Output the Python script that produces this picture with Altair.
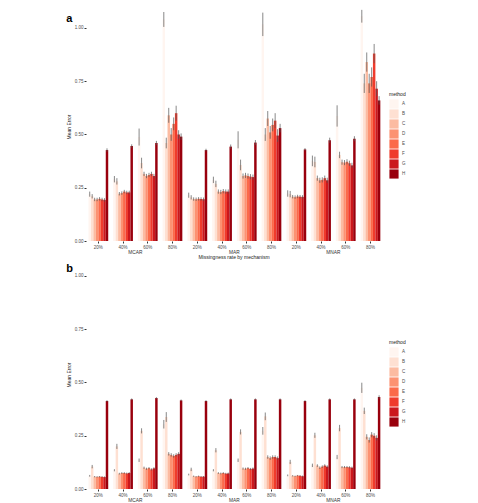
import altair as alt
import pandas as pd

METHODS = list("ABCDEFGH")
RATES = ["20%", "40%", "60%", "80%"]
MECHANISMS = ["MCAR", "MAR", "MNAR"]
REDS = ["#fff5f0", "#fee0d2", "#fcbba1", "#fc9272",
        "#fb6a4a", "#ef3b2c", "#cb181d", "#99000d"]
FONT = "Liberation Sans"

# ---- panel a: mean error, one row per missingness rate, one column per method
a_mcar_mean = [
    [0.220, 0.210, 0.195, 0.195, 0.198, 0.195, 0.193, 0.427],
    [0.290, 0.280, 0.222, 0.225, 0.232, 0.228, 0.228, 0.446],
    [0.488, 0.366, 0.315, 0.305, 0.310, 0.315, 0.305, 0.460],
    [1.040, 0.460, 0.590, 0.500, 0.550, 0.600, 0.500, 0.490],
]
a_mar_mean = [
    [0.215, 0.205, 0.197, 0.196, 0.198, 0.197, 0.196, 0.427],
    [0.287, 0.268, 0.232, 0.230, 0.234, 0.232, 0.232, 0.443],
    [0.475, 0.357, 0.305, 0.308, 0.305, 0.302, 0.300, 0.462],
    [1.017, 0.500, 0.575, 0.510, 0.545, 0.565, 0.495, 0.530],
]
a_mnar_mean = [
    [0.223, 0.220, 0.208, 0.206, 0.209, 0.208, 0.207, 0.430],
    [0.376, 0.371, 0.295, 0.285, 0.287, 0.295, 0.285, 0.473],
    [0.587, 0.404, 0.370, 0.368, 0.372, 0.365, 0.355, 0.480],
    [1.055, 0.740, 0.840, 0.740, 0.770, 0.880, 0.715, 0.660],
]
# half-widths of the error bars
a_mcar_err = [
    [0.012, 0.010, 0.008, 0.008, 0.008, 0.008, 0.008, 0.008],
    [0.015, 0.015, 0.008, 0.008, 0.008, 0.008, 0.008, 0.008],
    [0.040, 0.025, 0.010, 0.010, 0.010, 0.010, 0.010, 0.010],
    [0.035, 0.025, 0.035, 0.030, 0.030, 0.035, 0.020, 0.015],
]
a_mar_err = [
    [0.012, 0.010, 0.008, 0.008, 0.008, 0.008, 0.008, 0.006],
    [0.015, 0.015, 0.010, 0.010, 0.010, 0.010, 0.010, 0.010],
    [0.040, 0.025, 0.012, 0.012, 0.012, 0.012, 0.012, 0.012],
    [0.055, 0.030, 0.035, 0.030, 0.030, 0.035, 0.030, 0.020],
]
a_mnar_err = [
    [0.015, 0.015, 0.008, 0.008, 0.008, 0.008, 0.008, 0.006],
    [0.025, 0.025, 0.012, 0.012, 0.012, 0.012, 0.012, 0.012],
    [0.050, 0.015, 0.012, 0.012, 0.012, 0.012, 0.012, 0.012],
    [0.030, 0.045, 0.045, 0.045, 0.045, 0.045, 0.035, 0.020],
]

# ---- panel b
b_mcar_mean = [
    [0.062, 0.105, 0.058, 0.057, 0.058, 0.057, 0.056, 0.413],
    [0.088, 0.200, 0.072, 0.075, 0.075, 0.073, 0.075, 0.421],
    [0.135, 0.273, 0.100, 0.095, 0.098, 0.092, 0.097, 0.427],
    [0.304, 0.338, 0.165, 0.160, 0.155, 0.160, 0.165, 0.416],
]
b_mar_mean = [
    [0.068, 0.092, 0.060, 0.058, 0.060, 0.058, 0.058, 0.413],
    [0.088, 0.182, 0.075, 0.073, 0.075, 0.072, 0.073, 0.421],
    [0.135, 0.268, 0.096, 0.095, 0.098, 0.094, 0.096, 0.421],
    [0.273, 0.341, 0.150, 0.145, 0.150, 0.150, 0.145, 0.421],
]
b_mnar_mean = [
    [0.064, 0.127, 0.062, 0.060, 0.063, 0.062, 0.060, 0.413],
    [0.111, 0.252, 0.110, 0.100, 0.105, 0.110, 0.105, 0.421],
    [0.150, 0.286, 0.103, 0.103, 0.103, 0.102, 0.100, 0.421],
    [0.475, 0.367, 0.245, 0.230, 0.255, 0.250, 0.240, 0.432],
]
b_mcar_err = [
    [0.004, 0.008, 0.003, 0.003, 0.003, 0.003, 0.003, 0.004],
    [0.005, 0.012, 0.004, 0.004, 0.004, 0.004, 0.004, 0.004],
    [0.008, 0.012, 0.005, 0.005, 0.005, 0.005, 0.005, 0.004],
    [0.020, 0.023, 0.008, 0.008, 0.008, 0.008, 0.008, 0.004],
]
b_mar_err = [
    [0.004, 0.008, 0.003, 0.003, 0.003, 0.003, 0.003, 0.004],
    [0.005, 0.010, 0.004, 0.004, 0.004, 0.004, 0.004, 0.004],
    [0.008, 0.012, 0.005, 0.005, 0.005, 0.005, 0.005, 0.004],
    [0.018, 0.018, 0.008, 0.008, 0.008, 0.008, 0.008, 0.004],
]
b_mnar_err = [
    [0.004, 0.010, 0.003, 0.003, 0.003, 0.003, 0.003, 0.004],
    [0.008, 0.012, 0.006, 0.006, 0.006, 0.006, 0.006, 0.004],
    [0.010, 0.015, 0.005, 0.005, 0.005, 0.005, 0.005, 0.004],
    [0.024, 0.015, 0.012, 0.012, 0.012, 0.012, 0.012, 0.008],
]


def frame(means, errs):
    rows = []
    for mech, m_tab, e_tab in zip(MECHANISMS, means, errs):
        for rate, m_row, e_row in zip(RATES, m_tab, e_tab):
            for meth, m, e in zip(METHODS, m_row, e_row):
                rows.append(dict(mechanism=mech, rate=rate, method=meth,
                                 mean=m, lo=m - e, hi=m + e))
    return pd.DataFrame(rows)


def panel(df, tag):
    base = alt.Chart(df)
    x = alt.X("rate:N", sort=RATES, title=None,
              scale=alt.Scale(paddingInner=0.2, paddingOuter=0.1),
              axis=alt.Axis(labelAngle=0, labelFontSize=4.5, labelPadding=1,
                            tickSize=2, tickColor="#333", labelColor="#4d4d4d",
                            domain=False, labelFont=FONT))
    xo = alt.XOffset("method:N", sort=METHODS, scale=alt.Scale(paddingInner=0, paddingOuter=0))
    y_scale = alt.Scale(domain=[0, 1.075], nice=False, zero=True)
    bars = base.mark_bar().encode(
        x=x, xOffset=xo,
        y=alt.Y("mean:Q", scale=y_scale, title="Mean Error",
                axis=alt.Axis(values=[0, 0.25, 0.5, 0.75, 1.0], format=".2f",
                              grid=False, domain=False, tickSize=2, tickColor="#333",
                              labelFontSize=4.5, labelPadding=1, labelColor="#4d4d4d",
                              titleFontSize=5, titleFontWeight="normal",
                              titlePadding=3, titleColor="#222",
                              labelFont=FONT, titleFont=FONT)),
        color=alt.Color("method:N", scale=alt.Scale(domain=METHODS, range=REDS),
                        legend=alt.Legend(title="method", orient="none",
                                          legendX=303, legendY=80,
                                          symbolType="square", symbolSize=84,
                                          symbolStrokeWidth=0, symbolOpacity=1,
                                          rowPadding=0, labelFontSize=4.5,
                                          titleFontSize=5, titleFontWeight="normal",
                                          titleColor="#222", labelColor="#4d4d4d",
                                          titlePadding=2, labelOffset=3,
                                          labelFont=FONT, titleFont=FONT)),
    )
    errbars = base.mark_rule(color="#555555", strokeWidth=0.7).encode(
        x=x, xOffset=xo,
        y=alt.Y("lo:Q", scale=y_scale),
        y2="hi:Q",
    )
    layer = alt.layer(bars, errbars).properties(width=98.8, height=229)
    return layer.facet(
        column=alt.Column(
            "mechanism:N", sort=MECHANISMS,
            header=alt.Header(labelOrient="bottom", titleOrient="bottom",
                              title="Missingness rate by mechanism",
                              labelFontSize=4.8, titleFontSize=5,
                              labelPadding=1, titlePadding=-10,
                              titleFontWeight="normal", labelColor="#333",
                              titleColor="#222", labelFont=FONT, titleFont=FONT)),
        spacing=0,
    ).properties(
        title=alt.TitleParams(tag, anchor="start", frame="bounds", fontSize=11,
                              fontWeight="bold", font=FONT, color="#000",
                              offset=-14),
    )


chart_a = panel(frame([a_mcar_mean, a_mar_mean, a_mnar_mean],
                      [a_mcar_err, a_mar_err, a_mnar_err]), "a")
chart_b = panel(frame([b_mcar_mean, b_mar_mean, b_mnar_mean],
                      [b_mcar_err, b_mar_err, b_mnar_err]), "b")

chart = alt.vconcat(chart_a, chart_b, spacing=-4).resolve_scale(
    color="independent"
).properties(
    padding={"left": 66, "top": 9, "right": 0, "bottom": 0},
).configure(
    background="white",
    view=alt.ViewConfig(stroke="transparent", strokeWidth=0),
)

chart.save("out.html", embed_options={"renderer": "svg", "actions": False})
